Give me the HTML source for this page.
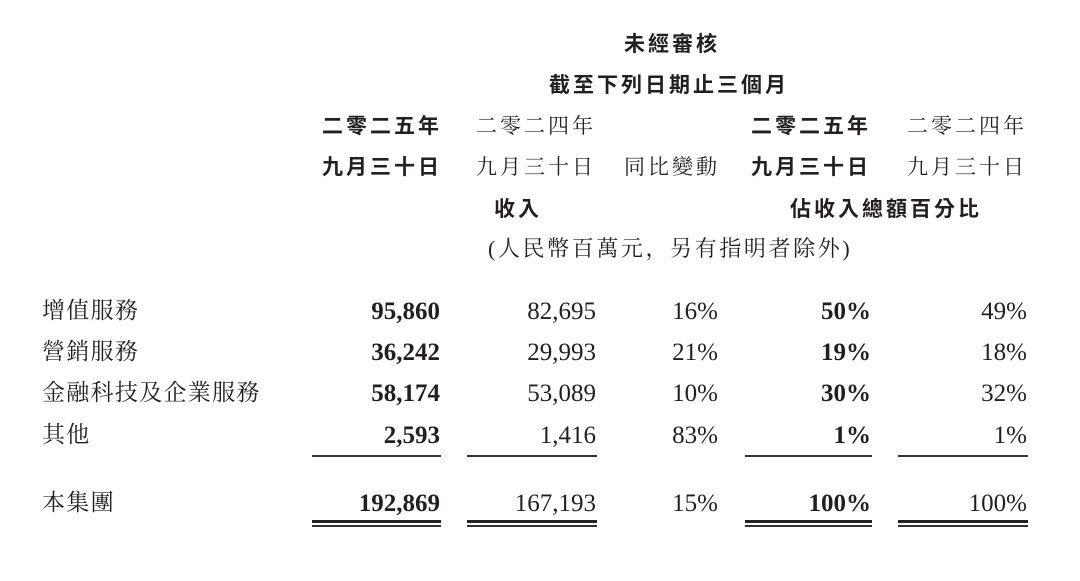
<!DOCTYPE html>
<html><head><meta charset="utf-8"><style>
body{margin:0;width:1080px;height:581px;background:#fff;position:relative;overflow:hidden;color:#231f20}
.t{position:absolute;white-space:nowrap;line-height:1}
.h{font-family:"Liberation Sans","Noto Sans CJK TC",sans-serif;font-weight:bold;font-size:21px;letter-spacing:3px}
.s{font-family:"Liberation Serif","Noto Serif CJK SC",serif;font-size:21px;letter-spacing:3px}
.lb{font-family:"Liberation Serif","Noto Serif CJK SC",serif;font-size:23px;letter-spacing:1.3px}
.n{font-family:"Liberation Serif","Noto Serif CJK SC",serif;font-size:25px;text-align:right}
.b{font-weight:bold}
.l{position:absolute;height:1.5px;background:#333}
.d{position:absolute;height:3px;background:#222}
</style></head><body>
<div class="t h" style="left:624px;top:34px">未經審核</div>
<div class="t h" style="left:549px;top:75px">截至下列日期止三個月</div>

<div class="t h" style="left:322px;top:116px">二零二五年</div>
<div class="t s" style="left:476px;top:116px">二零二四年</div>
<div class="t h" style="left:751px;top:116px">二零二五年</div>
<div class="t s" style="left:907px;top:116px">二零二四年</div>

<div class="t h" style="left:322px;top:157px">九月三十日</div>
<div class="t s" style="left:476px;top:157px">九月三十日</div>
<div class="t s" style="left:624px;top:157px">同比變動</div>
<div class="t h" style="left:751px;top:157px">九月三十日</div>
<div class="t s" style="left:907px;top:157px">九月三十日</div>

<div class="t h" style="left:494px;top:199px">收入</div>
<div class="t h" style="left:790px;top:199px">佔收入總額百分比</div>
<div class="t s" style="left:488px;top:238px;font-size:22px;letter-spacing:2.6px">(人民幣百萬元，另有指明者除外)</div>

<div class="t lb" style="left:42px;top:299px">增值服務</div>
<div class="t lb" style="left:42px;top:340px">營銷服務</div>
<div class="t lb" style="left:42px;top:381px">金融科技及企業服務</div>
<div class="t lb" style="left:42px;top:423px">其他</div>
<div class="t lb" style="left:42px;top:491px">本集團</div>

<div class="t n b" style="right:640px;top:299px">95,860</div>
<div class="t n" style="right:484px;top:299px">82,695</div>
<div class="t n" style="right:362px;top:299px">16%</div>
<div class="t n b" style="right:209px;top:299px">50%</div>
<div class="t n" style="right:53px;top:299px">49%</div>

<div class="t n b" style="right:640px;top:340px">36,242</div>
<div class="t n" style="right:484px;top:340px">29,993</div>
<div class="t n" style="right:362px;top:340px">21%</div>
<div class="t n b" style="right:209px;top:340px">19%</div>
<div class="t n" style="right:53px;top:340px">18%</div>

<div class="t n b" style="right:640px;top:381px">58,174</div>
<div class="t n" style="right:484px;top:381px">53,089</div>
<div class="t n" style="right:362px;top:381px">10%</div>
<div class="t n b" style="right:209px;top:381px">30%</div>
<div class="t n" style="right:53px;top:381px">32%</div>

<div class="t n b" style="right:640px;top:423px">2,593</div>
<div class="t n" style="right:484px;top:423px">1,416</div>
<div class="t n" style="right:362px;top:423px">83%</div>
<div class="t n b" style="right:209px;top:423px">1%</div>
<div class="t n" style="right:53px;top:423px">1%</div>

<div class="t n b" style="right:640px;top:491px">192,869</div>
<div class="t n" style="right:484px;top:491px">167,193</div>
<div class="t n" style="right:362px;top:491px">15%</div>
<div class="t n b" style="right:209px;top:491px">100%</div>
<div class="t n" style="right:53px;top:491px">100%</div>

<div class="l" style="left:312px;width:129px;top:455px"></div>
<div class="l" style="left:467px;width:130px;top:455px"></div>
<div class="l" style="left:745px;width:127px;top:455px"></div>
<div class="l" style="left:898px;width:130px;top:455px"></div>

<div class="d" style="left:312px;width:129px;top:520px"></div>
<div class="l" style="left:312px;width:129px;top:525px"></div>
<div class="d" style="left:467px;width:130px;top:520px"></div>
<div class="l" style="left:467px;width:130px;top:525px"></div>
<div class="d" style="left:745px;width:127px;top:520px"></div>
<div class="l" style="left:745px;width:127px;top:525px"></div>
<div class="d" style="left:898px;width:130px;top:520px"></div>
<div class="l" style="left:898px;width:130px;top:525px"></div>
</body></html>
